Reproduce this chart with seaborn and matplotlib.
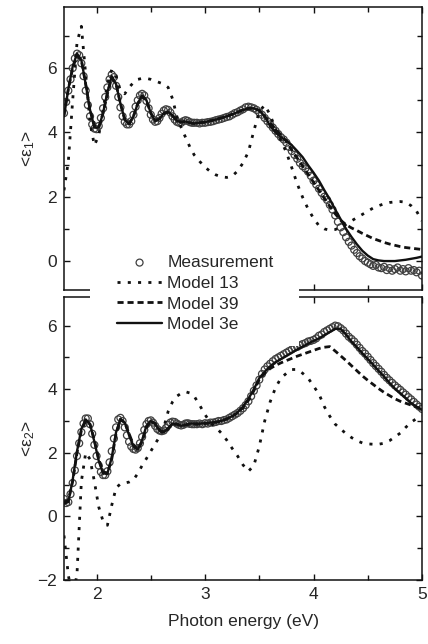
import matplotlib
matplotlib.use("Agg")
import matplotlib.pyplot as plt
import seaborn as sns
from matplotlib.patches import Rectangle
from matplotlib.ticker import MultipleLocator

# photon energy grid for the model curves (eV)
energy = [1.70, 1.74, 1.78, 1.82, 1.86, 1.90, 1.94, 1.98, 2.02, 2.06,
          2.10, 2.14, 2.18, 2.22, 2.26, 2.30, 2.34, 2.38, 2.42, 2.46,
          2.50, 2.54, 2.58, 2.62, 2.66, 2.70, 2.74, 2.78, 2.82, 2.86,
          2.90, 2.95, 3.00, 3.05, 3.10, 3.15, 3.20, 3.25, 3.30, 3.35,
          3.40, 3.45, 3.50, 3.55, 3.60, 3.65, 3.70, 3.75, 3.80, 3.85,
          3.90, 3.95, 4.00, 4.05, 4.10, 4.15, 4.20, 4.25, 4.30, 4.35,
          4.40, 4.45, 4.50, 4.55, 4.60, 4.65, 4.70, 4.75, 4.80, 4.85,
          4.90, 4.95, 5.00]

# photon energies of the measured points (eV)
energy_meas = [1.70, 1.72, 1.74, 1.76, 1.78, 1.80, 1.82, 1.84, 1.86, 1.88,
               1.90, 1.92, 1.94, 1.96, 1.98, 2.00, 2.02, 2.04, 2.06, 2.08,
               2.10, 2.12, 2.14, 2.16, 2.18, 2.20, 2.22, 2.24, 2.26, 2.28,
               2.30, 2.32, 2.34, 2.36, 2.38, 2.40, 2.42, 2.44, 2.46, 2.48,
               2.50, 2.52, 2.54, 2.56, 2.58, 2.60, 2.62, 2.64, 2.66, 2.68,
               2.70, 2.72, 2.74, 2.76, 2.78, 2.80, 2.82, 2.84, 2.86, 2.88,
               2.90,
               2.925, 2.950, 2.975, 3.000, 3.025, 3.050, 3.075, 3.100, 3.125, 3.150, 3.175, 3.200,
               3.225, 3.250, 3.275, 3.300, 3.325, 3.350, 3.375, 3.400, 3.425, 3.450, 3.475, 3.500,
               3.525, 3.550, 3.575, 3.600, 3.625, 3.650, 3.675, 3.700, 3.725, 3.750, 3.775, 3.800,
               3.825, 3.850, 3.875, 3.900, 3.925, 3.950, 3.975, 4.000, 4.025, 4.050, 4.075, 4.100,
               4.125, 4.150, 4.175, 4.200, 4.225, 4.250, 4.275, 4.300, 4.325, 4.350, 4.375, 4.400,
               4.425, 4.450, 4.475, 4.500, 4.525, 4.550, 4.575, 4.600, 4.625, 4.650, 4.675, 4.700,
               4.725, 4.750, 4.775, 4.800, 4.825, 4.850, 4.875, 4.900, 4.925, 4.950, 4.975, 5.000]

# <eps1> measured
eps1_meas = [4.6, 4.95, 5.3, 5.65, 6.0, 6.3, 6.45, 6.4, 6.15, 5.75,
             5.3, 4.85, 4.5, 4.25, 4.12, 4.1, 4.2, 4.45, 4.75, 5.1,
             5.4, 5.65, 5.8, 5.72, 5.45, 5.1, 4.78, 4.5, 4.33, 4.25,
             4.25, 4.35, 4.55, 4.8, 5.0, 5.15, 5.2, 5.15, 4.98, 4.75,
             4.55, 4.4, 4.33, 4.35, 4.45, 4.58, 4.68, 4.72, 4.7, 4.62,
             4.5, 4.4, 4.33, 4.3, 4.3, 4.35, 4.38, 4.36, 4.32, 4.3,
             4.3,
             4.3, 4.28, 4.3, 4.3, 4.32, 4.33, 4.35, 4.38, 4.4, 4.42, 4.45, 4.48,
             4.5, 4.55, 4.6, 4.63, 4.68, 4.72, 4.78, 4.8, 4.78, 4.75, 4.7, 4.62,
             4.55, 4.45, 4.35, 4.25, 4.15, 4.05, 3.95, 3.85, 3.78, 3.68, 3.55, 3.42,
             3.3, 3.18, 3.05, 2.95, 2.88, 2.78, 2.65, 2.5, 2.38, 2.25, 2.12, 2.0,
             1.9, 1.75, 1.6, 1.42, 1.22, 1.05, 0.9, 0.74, 0.6, 0.48, 0.35, 0.25,
             0.15, 0.08, 0.0, -0.05, -0.1, -0.15, -0.12, -0.2, -0.22, -0.18, -0.28, -0.22,
             -0.3, -0.25, -0.2, -0.3, -0.25, -0.32, -0.22, -0.3, -0.28, -0.35, -0.3, -0.45]

# <eps1> models
eps1_m13 = [2.2, 3.1, 5.0, 6.8, 7.3, 5.8, 4.3, 3.6, 3.9, 4.7,
            5.5, 5.95, 5.75, 5.3, 5.2, 5.4, 5.55, 5.65, 5.68, 5.68,
            5.65, 5.6, 5.55, 5.5, 5.4, 5.05, 4.5, 4.15, 3.85, 3.55,
            3.3, 3.1, 2.92, 2.78, 2.68, 2.62, 2.6, 2.64, 2.8, 3.05,
            3.4, 4.05, 4.65, 4.85, 4.55, 4.1, 3.75, 3.38, 2.9, 2.4,
            1.98, 1.62, 1.33, 1.1, 1.0, 0.96, 0.98, 1.05, 1.14, 1.25,
            1.35, 1.45, 1.55, 1.65, 1.72, 1.78, 1.82, 1.84, 1.85, 1.83,
            1.72, 1.55, 1.25]
eps1_m39 = [4.55, 5.35, 6.0, 6.4, 6.25, 5.5, 4.7, 4.2, 4.15, 4.6,
            5.2, 5.7, 5.5, 4.9, 4.4, 4.27, 4.5, 4.9, 5.12, 5.0,
            4.6, 4.37, 4.42, 4.58, 4.63, 4.52, 4.37, 4.32, 4.34, 4.3,
            4.28, 4.3, 4.32, 4.36, 4.4, 4.45, 4.5, 4.56, 4.63, 4.7,
            4.75, 4.75, 4.68, 4.5, 4.3, 4.1, 3.92, 3.72, 3.45, 3.2,
            2.95, 2.7, 2.45, 2.2, 1.95, 1.7, 1.47, 1.27, 1.13, 1.03,
            0.95, 0.86, 0.78, 0.7, 0.64, 0.58, 0.53, 0.49, 0.45, 0.42,
            0.4, 0.38, 0.36]
eps1_m3e = [4.5, 5.35, 6.05, 6.45, 6.25, 5.5, 4.7, 4.15, 4.15, 4.6,
            5.25, 5.75, 5.5, 4.9, 4.4, 4.25, 4.5, 4.9, 5.15, 5.0,
            4.6, 4.35, 4.42, 4.6, 4.65, 4.52, 4.36, 4.32, 4.34, 4.3,
            4.28, 4.3, 4.32, 4.36, 4.4, 4.45, 4.5, 4.56, 4.63, 4.7,
            4.75, 4.75, 4.68, 4.5, 4.2, 4.0, 3.85, 3.75, 3.6, 3.42,
            3.23, 2.98, 2.75, 2.5, 2.2, 1.92, 1.6, 1.3, 1.0, 0.75,
            0.52, 0.32, 0.17, 0.06, 0.02, 0.0, 0.0, 0.0, 0.02, 0.04,
            0.07, 0.1, 0.14]

# <eps2> measured
eps2_meas = [0.55, 0.42, 0.45, 0.7, 1.05, 1.45, 1.9, 2.3, 2.65, 2.92,
             3.08, 3.08, 2.9, 2.6, 2.25, 1.9, 1.6, 1.4, 1.3, 1.3,
             1.42, 1.7, 2.05, 2.45, 2.8, 3.05, 3.1, 3.0, 2.8, 2.55,
             2.35, 2.2, 2.12, 2.1, 2.15, 2.3, 2.5, 2.72, 2.9, 3.0,
             3.02, 2.95, 2.85, 2.75, 2.7, 2.68, 2.7, 2.78, 2.88, 2.95,
             2.98, 2.97, 2.92, 2.88, 2.86, 2.88, 2.92, 2.93, 2.91, 2.9,
             2.9,
             2.9, 2.92, 2.9, 2.93, 2.92, 2.95, 2.95, 2.97, 3.0, 3.0, 3.03, 3.05,
             3.1, 3.15, 3.2, 3.25, 3.32, 3.4, 3.5, 3.62, 3.78, 3.95, 4.12, 4.3,
             4.48, 4.62, 4.72, 4.8, 4.88, 4.95, 5.0, 5.05, 5.1, 5.15, 5.2, 5.25,
             5.3, 5.33, 5.38, 5.42, 5.45, 5.5, 5.52, 5.55, 5.6, 5.68, 5.72, 5.8,
             5.85, 5.9, 5.95, 6.0, 5.98, 5.92, 5.85, 5.75, 5.65, 5.58, 5.5, 5.4,
             5.3, 5.2, 5.12, 5.02, 4.92, 4.82, 4.73, 4.64, 4.55, 4.45, 4.36, 4.28,
             4.2, 4.12, 4.05, 3.98, 3.9, 3.83, 3.75, 3.68, 3.6, 3.52, 3.45, 3.38]

# <eps2> models
eps2_m13 = [-0.6, -1.85, -2.6, -1.8, 1.1, 2.0, 1.8, 1.1, 0.3, -0.15,
            -0.28, 0.35, 0.9, 1.02, 1.05, 1.08, 1.15, 1.35, 1.6, 1.82,
            2.05, 2.28, 2.5, 2.8, 3.3, 3.6, 3.78, 3.87, 3.92, 3.88,
            3.78, 3.5, 3.2, 2.95, 2.8, 2.62, 2.4, 2.14, 1.9, 1.62,
            1.42, 1.6, 2.2, 3.0, 3.6, 4.05, 4.35, 4.5, 4.62, 4.62,
            4.5, 4.35, 4.1, 3.85, 3.45, 3.15, 2.9, 2.75, 2.6, 2.48,
            2.38, 2.31, 2.28, 2.27, 2.27, 2.3, 2.38, 2.5, 2.62, 2.8,
            2.96, 3.08, 3.15]
eps2_m39 = [0.45, 0.5, 1.1, 2.0, 2.7, 3.0, 2.9, 2.4, 1.8, 1.4,
            1.35, 1.8, 2.6, 3.05, 2.95, 2.6, 2.25, 2.1, 2.35, 2.8,
            3.0, 2.92, 2.72, 2.65, 2.75, 2.9, 2.9, 2.86, 2.88, 2.9,
            2.9, 2.9, 2.92, 2.94, 2.96, 3.0, 3.06, 3.14, 3.26, 3.42,
            3.65, 3.95, 4.3, 4.5, 4.65, 4.75, 4.83, 4.9, 4.97, 5.04,
            5.1, 5.16, 5.22, 5.28, 5.32, 5.34, 5.2, 5.05, 4.9, 4.74,
            4.58, 4.42, 4.28, 4.15, 4.02, 3.9, 3.8, 3.7, 3.62, 3.56,
            3.5, 3.44, 3.38]
eps2_m3e = [0.4, 0.45, 1.15, 2.05, 2.75, 3.05, 2.9, 2.35, 1.75, 1.35,
            1.35, 1.85, 2.65, 3.05, 2.95, 2.55, 2.2, 2.1, 2.4, 2.85,
            3.0, 2.9, 2.7, 2.65, 2.78, 2.92, 2.9, 2.85, 2.88, 2.92,
            2.92, 2.92, 2.93, 2.95, 2.97, 3.0, 3.07, 3.15, 3.27, 3.45,
            3.7, 4.0, 4.35, 4.55, 4.72, 4.85, 4.95, 5.05, 5.15, 5.25,
            5.34, 5.43, 5.52, 5.6, 5.7, 5.8, 5.9, 5.9, 5.72, 5.5,
            5.32, 5.13, 4.95, 4.77, 4.58, 4.4, 4.2, 4.02, 3.87, 3.72,
            3.56, 3.45, 3.35]

sns.set_theme(style="ticks")
plt.rcParams["font.family"] = ["Liberation Sans", "DejaVu Sans"]
plt.rcParams["mathtext.fontset"] = "custom"
plt.rcParams["mathtext.rm"] = "Liberation Sans"
plt.rcParams["mathtext.it"] = "Liberation Sans"

FS = 12.5
W, H = 428, 644
fig = plt.figure(figsize=(W / 100, H / 100), dpi=100)
fig.patch.set_facecolor("white")
ax1 = fig.add_axes([64 / W, 1 - 290 / H, 358 / W, 283 / H])
ax2 = fig.add_axes([64 / W, 1 - 580 / H, 358 / W, 283 / H])


def draw_panel(ax, meas, m13, m39, m3e):
    sns.scatterplot(x=energy_meas, y=meas, ax=ax, marker="o", s=25,
                    facecolor="none", edgecolor="#404040", linewidth=0.9,
                    legend=False, label="Measurement", zorder=2)
    ax.collections[-1].set_facecolor("none")
    sns.lineplot(x=energy, y=m13, ax=ax, color="#111111", linewidth=2.0,
                 linestyle=(0, (1.1, 2.6)), errorbar=None, legend=False,
                 label="Model 13", zorder=3)
    sns.lineplot(x=energy, y=m39, ax=ax, color="#111111", linewidth=2.0,
                 linestyle=(0, (2.2, 1.4)), errorbar=None, legend=False,
                 label="Model 39", zorder=3)
    sns.lineplot(x=energy, y=m3e, ax=ax, color="#111111", linewidth=1.7,
                 linestyle="-", errorbar=None, legend=False,
                 label="Model 3e", zorder=4)
    ax.set_xlim(1.7, 5.0)
    ax.xaxis.set_major_locator(MultipleLocator(1))
    ax.xaxis.set_minor_locator(MultipleLocator(0.5))
    ax.yaxis.set_major_locator(MultipleLocator(2))
    ax.yaxis.set_minor_locator(MultipleLocator(1))
    ax.tick_params(which="both", direction="in", top=True, right=True,
                   labelsize=FS, width=1.0, color="#111111", pad=5)
    ax.tick_params(which="major", length=4)
    ax.tick_params(which="minor", length=3.5)
    for sp in ax.spines.values():
        sp.set_linewidth(1.1)
        sp.set_color("#111111")
    ax.set_xlabel("")
    ax.yaxis.set_label_coords(-0.075, 0.5)


draw_panel(ax1, eps1_meas, eps1_m13, eps1_m39, eps1_m3e)
draw_panel(ax2, eps2_meas, eps2_m13, eps2_m39, eps2_m3e)

ax1.set_ylim(-0.9, 7.9)
ax1.tick_params(labelbottom=False)
ax1.set_ylabel("<ε$_1$>", fontsize=FS)

ax2.set_ylim(-2.0, 6.9)
ax2.set_ylabel("<ε$_2$>", fontsize=FS)
ax2.set_xlabel("Photon energy (eV)", fontsize=FS, labelpad=9)

# white patch behind the legend, covering the gap between the panels
fig.patches.append(Rectangle((90 / W, 1 - 346 / H), 209 / W, 98 / H,
                             transform=fig.transFigure, facecolor="white",
                             edgecolor="none", zorder=3))

handles, labels = ax1.get_legend_handles_labels()
leg = fig.legend(handles, labels, loc="upper left",
                 bbox_to_anchor=(117 / W, 1 - 255 / H), frameon=False,
                 fontsize=FS, handlelength=2.6, handletextpad=0.3,
                 labelspacing=0.32, borderpad=0, borderaxespad=0)
leg.set_zorder(5)

fig.savefig("out.png", dpi=100)
